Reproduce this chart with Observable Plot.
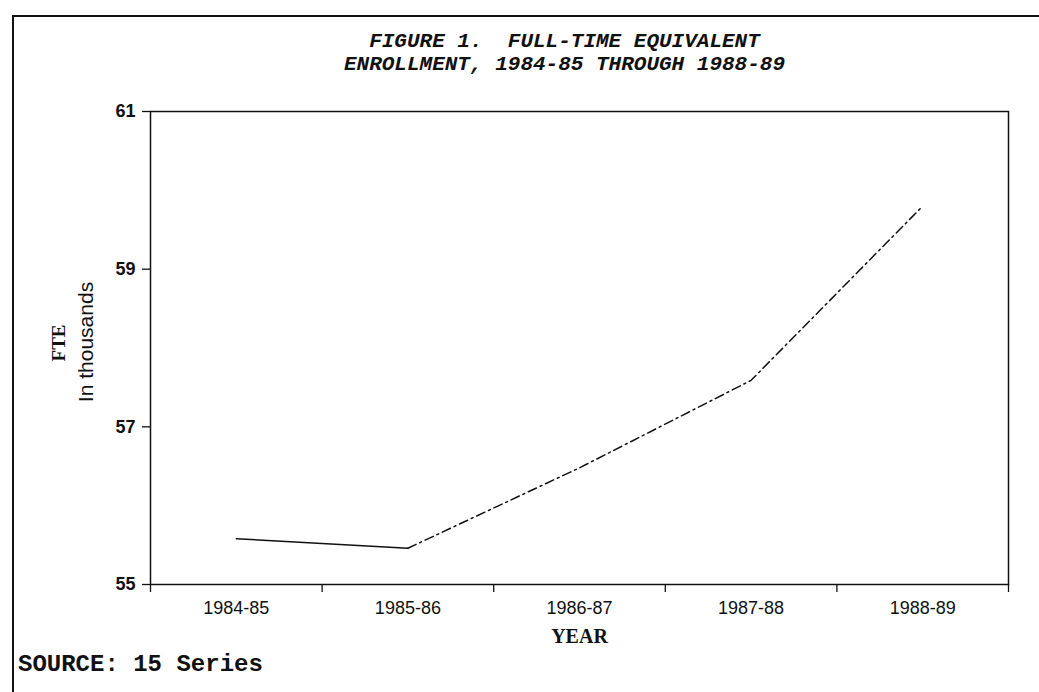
<!DOCTYPE html>
<html>
<head>
<meta charset="utf-8">
<script src="https://cdn.jsdelivr.net/npm/d3@7"></script>
<script src="https://cdn.jsdelivr.net/npm/@observablehq/plot@0.6"></script>
<style>
  html, body { margin: 0; padding: 0; background: #fff; }
  #wrap { position: relative; width: 1039px; height: 692px; overflow: hidden; background: #fff; }
  #border { position: absolute; left: 12px; top: 15px; width: 1040px; height: 690px;
            border-top: 2px solid #111; border-left: 2px solid #111; pointer-events: none; }
  #title { height: 90px; box-sizing: border-box; padding-top: 30px; padding-left: 90px;
           text-align: center; font-family: "Liberation Mono", "DejaVu Sans Mono", monospace;
           font-weight: bold; font-style: italic; font-size: 21px; line-height: 23px; color: #111;
           white-space: pre; }
  #source { height: 42px; padding-left: 18px; font-family: "Liberation Mono", "DejaVu Sans Mono", monospace;
            font-weight: bold; font-size: 24px; line-height: 30px; color: #111; white-space: pre; }
  svg { display: block; }
</style>
</head>
<body>
<div id="wrap">
  <div id="title">FIGURE 1.  FULL-TIME EQUIVALENT
ENROLLMENT, 1984-85 THROUGH 1988-89</div>
  <div id="chart"></div>
  <div id="source">SOURCE: 15 Series</div>
  <div id="border"></div>
</div>
<script>
// Data
const years = ["1984-85", "1985-86", "1986-87", "1987-88", "1988-89"];
const fte = [55.58, 55.46, 56.48, 57.59, 59.8];   // in thousands
const yTicks = [55, 57, 59, 61];

const rows = years.map((year, i) => ({year, i, pos: i + 0.5, fte: fte[i]}));
const solidPart = rows.slice(0, 2);
const dashedPart = rows.slice(1);
const boundaries = d3.range(0, years.length + 1);
const centers = rows.map(d => d.pos);

const ink = "#111";
const chart = Plot.plot({
  width: 1039,
  height: 560,
  marginTop: 21,
  marginBottom: 66,
  marginLeft: 150,
  marginRight: 31,
  style: {fontFamily: "Liberation Sans, Arial, sans-serif", color: ink, background: "#fff"},
  x: {type: "linear", domain: [0, years.length]},
  y: {domain: [55, 61]},
  marks: [
    Plot.frame({stroke: ink, strokeWidth: 1.5}),
    Plot.axisY({ticks: yTicks, tickSize: 8, tickPadding: 7, tickFormat: d => String(d),
                fontSize: 18, fontWeight: "bold", label: null, stroke: ink, strokeWidth: 1.3}),
    Plot.axisX({ticks: boundaries, tickSize: 8, tickFormat: () => "", label: null, stroke: ink, strokeWidth: 1.3}),
    Plot.axisX({ticks: centers, tickSize: 0, tickPadding: 17, tickFormat: d => years[Math.round(d - 0.5)],
                fontSize: 18, label: null}),
    Plot.text(["YEAR"], {frameAnchor: "bottom", dy: 58, fontFamily: "Liberation Serif, serif",
                         fontWeight: "bold", fontSize: 20, fill: ink}),
    Plot.text(["FTE"], {frameAnchor: "left", textAnchor: "middle", dx: -92, dy: -5, rotate: -90,
                        fontFamily: "Liberation Serif, serif", fontWeight: "bold", fontSize: 19, fill: ink}),
    Plot.text(["In thousands"], {frameAnchor: "left", textAnchor: "middle", dx: -64, dy: -6, rotate: -90,
                                 fontSize: 21, fill: ink}),
    Plot.line(solidPart, {x: "pos", y: "fte", stroke: ink, strokeWidth: 1.5}),
    Plot.line(dashedPart, {x: "pos", y: "fte", stroke: ink, strokeWidth: 1.5, strokeDasharray: "9,4,2,4"})
  ]
});
document.getElementById("chart").appendChild(chart);
</script>
</body>
</html>
